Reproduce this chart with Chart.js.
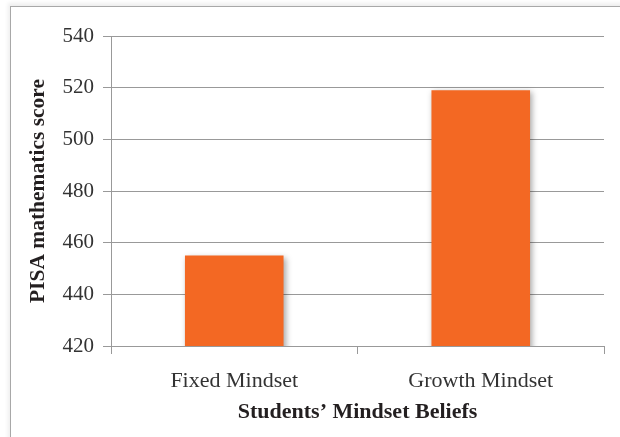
<!DOCTYPE html>
<html>
<head>
<meta charset="utf-8">
<script src="https://cdn.jsdelivr.net/npm/chart.js@4"></script>
<style>
    html, body { margin: 0; padding: 0; background: #fff; }
    #wrap { position: relative; width: 620px; height: 437px; overflow: hidden; }
    #frame {
        position: absolute; left: 10px; top: 6px; width: 700px; height: 500px;
        border-left: 1px solid #a8a8a8; border-top: 1px solid #a8a8a8;
        box-shadow: -2px -3px 4px rgba(0, 0, 0, 0.07);
    }
    #scoreChart { position: absolute; left: 0; top: 0; }
</style>
</head>
<body>
<div id="wrap">
    <div id="frame"></div>
    <canvas id="scoreChart" width="620" height="437"></canvas>
</div>
<script>
const categories = ['Fixed Mindset', 'Growth Mindset'];
const scores = [455, 519];
const yTicks = [420, 440, 460, 480, 500, 520, 540];

const xTitle = 'Students\u2019 Mindset Beliefs';
const yTitle = 'PISA mathematics score';

document.addEventListener('DOMContentLoaded', initChart);

// -------------- Sombra de barras --------------

const barShadow = {
    id: 'barShadow',
    beforeDatasetsDraw(chart) {
        const ctx = chart.ctx;
        ctx.save();
        ctx.shadowColor = 'rgba(0, 0, 0, 0.35)';
        ctx.shadowBlur = 6;
        ctx.shadowOffsetX = 2;
        ctx.shadowOffsetY = 2;
    },
    afterDatasetsDraw(chart) {
        chart.ctx.restore();
    }
};

function initChart() {
    const ctx = document.getElementById('scoreChart');
    const serif = "'Liberation Serif', 'Times New Roman', serif";

    new Chart(ctx, {
        type: 'bar',
        data: {
            labels: categories,
            datasets: [{
                data: scores,
                backgroundColor: '#f36823',
                borderWidth: 0,
                categoryPercentage: 1,
                barPercentage: 0.4
            }]
        },
        options: {
            responsive: false,
            animation: false,
            layout: { padding: { top: 36, right: 16, left: 0, bottom: 0 } },
            plugins: {
                legend: { display: false },
                tooltip: { enabled: false }
            },
            scales: {
                x: {
                    afterFit: scale => { scale.height = 91; },
                    grid: {
                        offset: true,
                        drawOnChartArea: false,
                        drawTicks: true,
                        tickLength: 8,
                        color: '#999999'
                    },
                    border: { display: true, color: '#999999', width: 1 },
                    ticks: {
                        color: '#333333',
                        padding: 14,
                        font: { family: serif, size: 22 }
                    },
                    title: {
                        display: true,
                        text: xTitle,
                        color: '#231f20',
                        padding: { top: 2, bottom: 11 },
                        font: { family: serif, size: 22, weight: 'bold' }
                    }
                },
                y: {
                    min: 420,
                    max: 540,
                    afterFit: scale => { scale.width = 111; },
                    afterBuildTicks: scale => {
                        scale.ticks = yTicks.map(v => ({ value: v }));
                    },
                    grid: {
                        drawTicks: true,
                        tickLength: 8,
                        color: '#999999'
                    },
                    border: { display: true, color: '#999999', width: 1 },
                    ticks: {
                        color: '#333333',
                        padding: 9,
                        font: { family: serif, size: 21 }
                    },
                    title: {
                        display: true,
                        text: yTitle,
                        color: '#231f20',
                        padding: { top: 26, bottom: 0 },
                        font: { family: serif, size: 21.5, weight: 'bold' }
                    }
                }
            }
        },
        plugins: [barShadow]
    });
}
</script>
</body>
</html>
